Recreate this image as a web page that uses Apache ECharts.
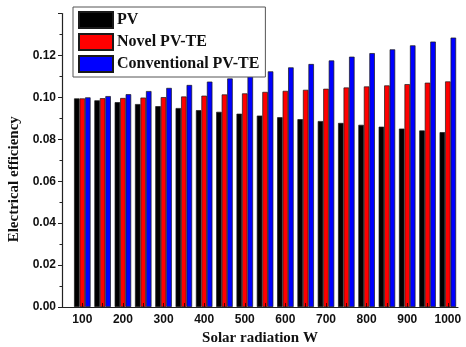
<!DOCTYPE html>
<html>
<head>
<meta charset="utf-8">
<script src="https://cdn.jsdelivr.net/npm/echarts@6/dist/echarts.min.js"></script>
<style>
  html, body { margin: 0; padding: 0; background: #fff; }
  #chart { width: 466px; height: 347px; }
</style>
</head>
<body>
<div id="chart"></div>
<script>
// Solar radiation levels (W) on the x axis
const radiation = [100, 150, 200, 250, 300, 350, 400, 450, 500, 550,
                   600, 650, 700, 750, 800, 850, 900, 950, 1000];

// Electrical efficiency for each system
const pv = [0.0995, 0.0986, 0.0977, 0.0968, 0.0958, 0.0949, 0.0939, 0.0931, 0.0922, 0.0913,
            0.0905, 0.0896, 0.0887, 0.0878, 0.0869, 0.0860, 0.0851, 0.0842, 0.0834];
const novelPVTE = [0.0995, 0.0996, 0.0997, 0.0999, 0.1001, 0.1004, 0.1008, 0.1014, 0.1019, 0.1026,
                   0.1031, 0.1036, 0.1041, 0.1047, 0.1052, 0.1057, 0.1063, 0.1070, 0.1076];
const conventionalPVTE = [0.1000, 0.1006, 0.1015, 0.1030, 0.1045, 0.1059, 0.1075, 0.1090, 0.1107, 0.1124,
                          0.1143, 0.1159, 0.1176, 0.1194, 0.1211, 0.1229, 0.1248, 0.1266, 0.1285];

const seriesNames = ['PV', 'Novel PV-TE', 'Conventional PV-TE'];
const seriesColors = ['#000000', '#ff0000', '#0000ff'];
const seriesValues = [pv, novelPVTE, conventionalPVTE];

// y-axis tick labels
const yTickLabels = ['0.00', '0.02', '0.04', '0.06', '0.08', '0.10', '0.12'];

const pair = (vals) => radiation.map((r, i) => [r, vals[i]]);

const sansBold = { fontFamily: 'Liberation Sans', fontWeight: 'bold', fontSize: 12, color: '#111' };
const serifBold = { fontFamily: 'Liberation Serif', fontWeight: 'bold', color: '#111' };

const chart = echarts.init(document.getElementById('chart'), null, { renderer: 'canvas' });

chart.setOption({
  animation: false,
  backgroundColor: '#fff',
  grid: { left: 62, right: 8, top: 13.5, bottom: 40, outerBoundsMode: 'none', containLabel: false },
  legend: {
    orient: 'vertical',
    left: 73,
    top: 7,
    padding: [4, 6, 4, 5],
    itemWidth: 34,
    itemHeight: 16,
    itemGap: 4,
    icon: 'rect',
    borderColor: '#555',
    borderWidth: 1,
    backgroundColor: '#fff',
    textStyle: Object.assign({}, serifBold, { fontSize: 16, padding: [0, 0, 0, -1] }),
    data: seriesNames
  },
  xAxis: {
    type: 'value',
    min: 50,
    max: 1025,
    interval: 50,
    z: 10,
    name: 'Solar radiation W',
    nameLocation: 'middle',
    nameGap: 23,
    nameTextStyle: Object.assign({}, serifBold, { fontSize: 15 }),
    splitLine: { show: false },
    axisLine: { lineStyle: { color: '#222', width: 1.2 } },
    axisTick: { inside: true, length: 4, lineStyle: { color: '#400', width: 1 } },
    axisLabel: Object.assign({}, sansBold, {
      margin: 7,
      showMinLabel: false,
      showMaxLabel: false,
      formatter: (v) => (v % 100 === 0 ? String(v) : '')
    })
  },
  yAxis: {
    type: 'value',
    min: 0,
    max: 0.14,
    interval: 0.02,
    name: 'Electrical efficiency',
    nameLocation: 'middle',
    nameRotate: 90,
    nameGap: 39,
    nameTextStyle: Object.assign({}, serifBold, { fontSize: 15, padding: [0, 38, 0, 0] }),
    splitLine: { show: false },
    axisLine: { show: true, lineStyle: { color: '#222', width: 1.2 } },
    axisTick: { show: true, length: 4, lineStyle: { color: '#222' } },
    minorTick: { show: true, splitNumber: 2, length: 2.5, lineStyle: { color: '#222' } },
    axisLabel: Object.assign({}, sansBold, {
      margin: 6,
      showMaxLabel: false,
      formatter: (v) => {
        const idx = Math.round(v / 0.02);
        return yTickLabels[idx] !== undefined ? yTickLabels[idx] : '';
      }
    })
  },
  series: seriesNames.map((name, k) => ({
    name: name,
    type: 'bar',
    barWidth: 5.5,
    barGap: '0%',
    itemStyle: { color: seriesColors[k], borderColor: '#1a1a1a', borderWidth: 0.7 },
    data: pair(seriesValues[k])
  }))
});
</script>
</body>
</html>
